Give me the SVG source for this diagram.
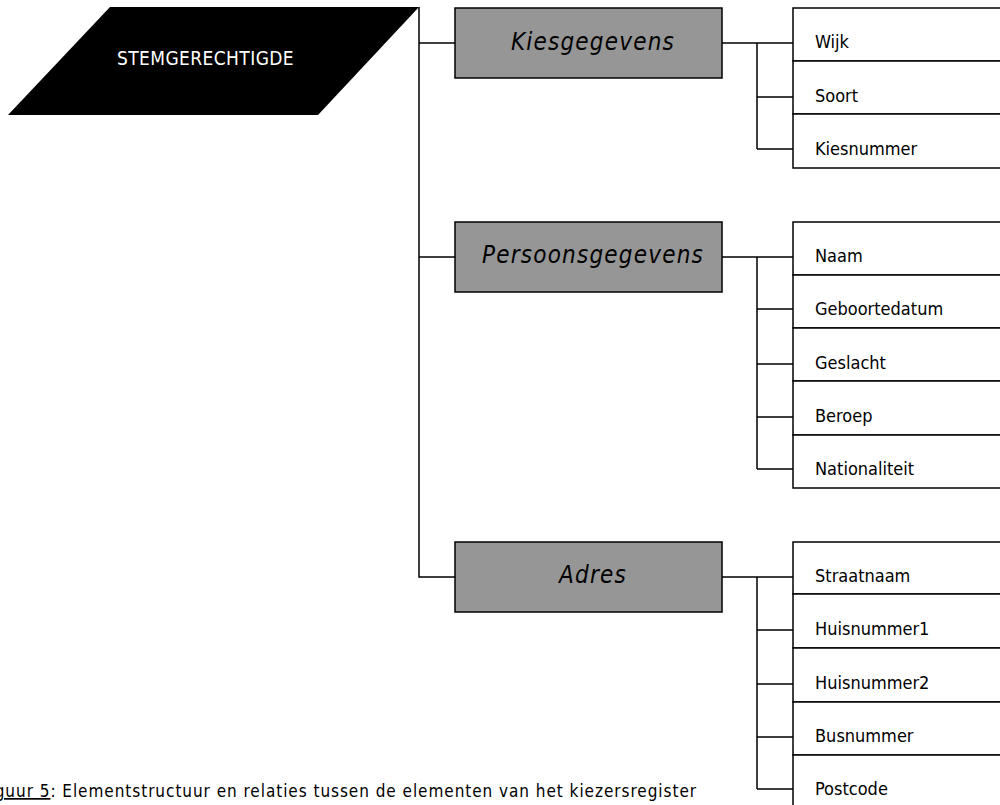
<svg xmlns="http://www.w3.org/2000/svg" width="1000" height="805" viewBox="0 0 1000 805">
<style>
text{font-family:"DejaVu Sans Condensed","DejaVu Sans",Verdana,sans-serif;font-stretch:condensed}
.grp{fill:#969696;stroke:#000;stroke-width:1.5}
.att{fill:#fff;stroke:#000;stroke-width:1.5}
.ln{fill:none;stroke:#000;stroke-width:1.5}
.gt{font-style:italic;font-size:24px;letter-spacing:1.2px;text-anchor:middle;fill:#000}
.at{font-size:18px;fill:#000}
</style>
<rect width="1000" height="805" fill="#fff"/>
<g id="stemgerechtigde">
<polygon points="110,7 419,7 318,115 8,115" fill="#000"/>
<text x="117" y="65" font-size="19px" letter-spacing="0.4" fill="#fff">STEMGERECHTIGDE</text>
</g>
<g id="connectors">
<path class="ln" d="M419,7 V577 H455 M419,43 H455 M419,257 H455"/>
<path class="ln" d="M722,43 H793 M757,43 V149 M757,97 H793 M757,149 H793"/>
<path class="ln" d="M722,257 H793 M757,257 V469 M757,309 H793 M757,364 H793 M757,417 H793 M757,469 H793"/>
<path class="ln" d="M722,577 H793 M757,577 V789 M757,630 H793 M757,684 H793 M757,737 H793 M757,789 H793"/>
</g>
<g id="kiesgegevens"><rect class="grp" x="455" y="8" width="267" height="70"/><text class="gt" x="593" y="50">Kiesgegevens</text></g>
<g id="persoonsgegevens"><rect class="grp" x="455" y="222" width="267" height="70"/><text class="gt" x="593" y="263">Persoonsgegevens</text></g>
<g id="adres"><rect class="grp" x="455" y="542" width="267" height="70"/><text class="gt" x="593" y="583">Adres</text></g>
<g id="wijk"><rect class="att" x="793" y="8" width="220" height="53"/><text class="at" x="815" y="48">Wijk</text></g>
<g id="soort"><rect class="att" x="793" y="61" width="220" height="53"/><text class="at" x="815" y="102">Soort</text></g>
<g id="kiesnummer"><rect class="att" x="793" y="114" width="220" height="54"/><text class="at" x="815" y="155">Kiesnummer</text></g>
<g id="naam"><rect class="att" x="793" y="222" width="220" height="53"/><text class="at" x="815" y="262">Naam</text></g>
<g id="geboortedatum"><rect class="att" x="793" y="275" width="220" height="53"/><text class="at" x="815" y="315">Geboortedatum</text></g>
<g id="geslacht"><rect class="att" x="793" y="328" width="220" height="53"/><text class="at" x="815" y="369">Geslacht</text></g>
<g id="beroep"><rect class="att" x="793" y="381" width="220" height="54"/><text class="at" x="815" y="422">Beroep</text></g>
<g id="nationaliteit"><rect class="att" x="793" y="435" width="220" height="53"/><text class="at" x="815" y="475">Nationaliteit</text></g>
<g id="straatnaam"><rect class="att" x="793" y="542" width="220" height="52"/><text class="at" x="815" y="582">Straatnaam</text></g>
<g id="huisnummer1"><rect class="att" x="793" y="594" width="220" height="54"/><text class="at" x="815" y="635">Huisnummer1</text></g>
<g id="huisnummer2"><rect class="att" x="793" y="648" width="220" height="54"/><text class="at" x="815" y="689">Huisnummer2</text></g>
<g id="busnummer"><rect class="att" x="793" y="702" width="220" height="53"/><text class="at" x="815" y="742">Busnummer</text></g>
<g id="postcode"><rect class="att" x="793" y="755" width="220" height="60"/><text class="at" x="815" y="795">Postcode</text></g>
<g id="caption">
<text x="697" y="797" font-size="17px" letter-spacing="0.95" text-anchor="end" fill="#000"><tspan text-decoration="underline">Figuur 5</tspan>: Elementstructuur en relaties tussen de elementen van het kiezersregister</text>
</g>
</svg>
